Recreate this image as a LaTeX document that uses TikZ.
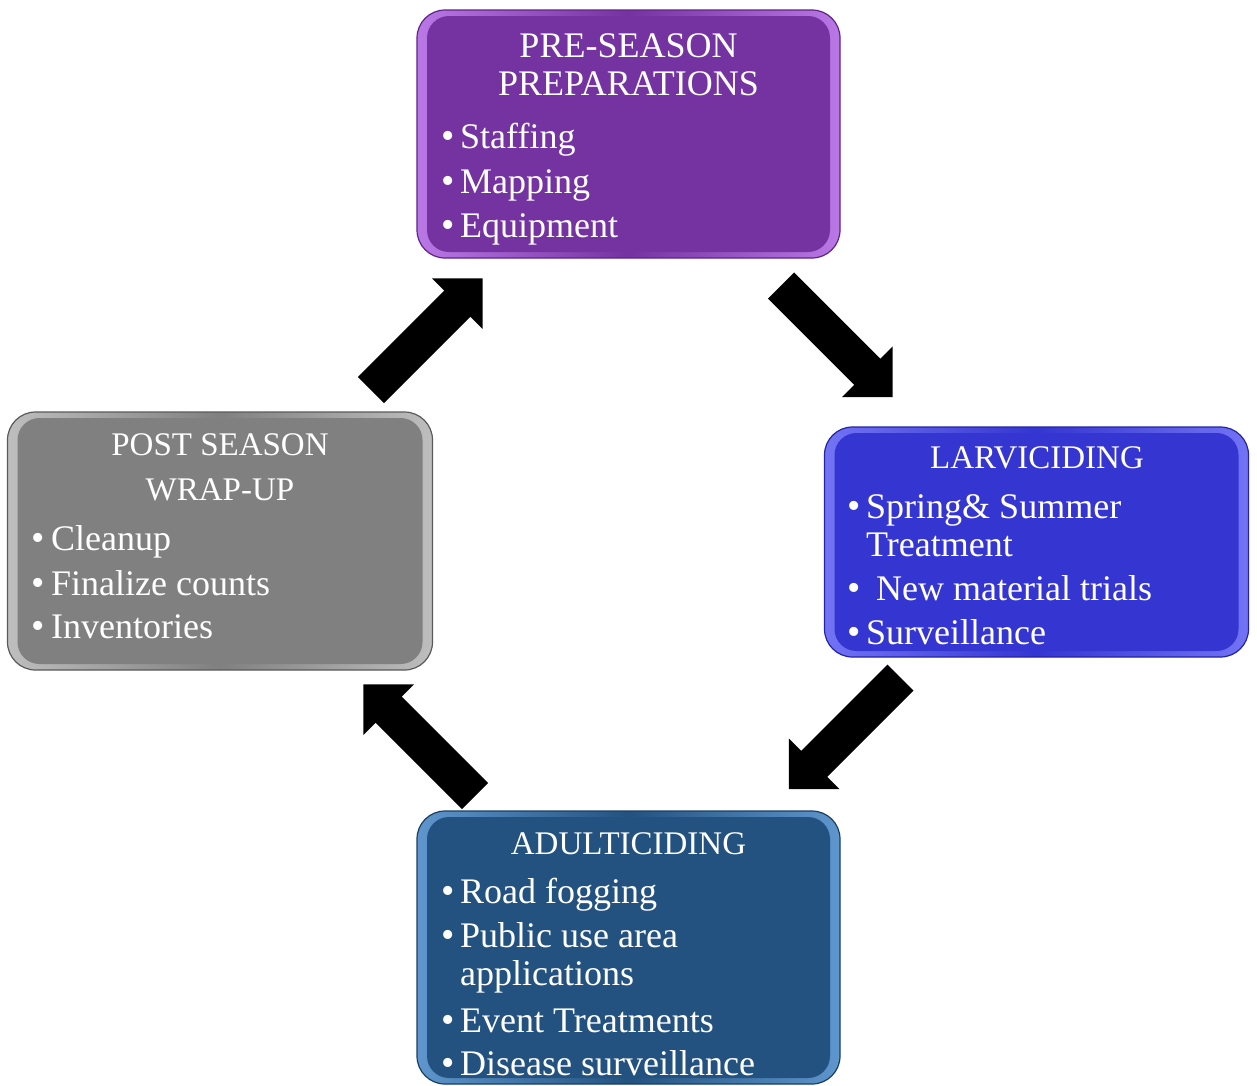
\documentclass[tikz,border=0pt]{standalone}
\usepackage{fontspec}
\setmainfont{Liberation Serif}
\definecolor{purp}{RGB}{117,51,162}
\definecolor{purpborder}{RGB}{95,35,135}
\definecolor{purplight}{RGB}{185,120,230}
\definecolor{blu}{RGB}{53,53,210}
\definecolor{bluborder}{RGB}{35,35,165}
\definecolor{blulight}{RGB}{115,115,245}
\definecolor{gry}{RGB}{128,128,128}
\definecolor{gryborder}{RGB}{90,90,90}
\definecolor{grylight}{RGB}{190,190,190}
\definecolor{nav}{RGB}{35,82,128}
\definecolor{navborder}{RGB}{25,62,100}
\definecolor{navlight}{RGB}{95,150,205}
\tikzset{
  hd/.style={anchor=base, inner sep=0pt, text=white, font=\fontsize{33}{33}\selectfont},
  hdbig/.style={anchor=base, inner sep=0pt, text=white, font=\fontsize{36}{36}\selectfont},
  bl/.style={anchor=base west, inner sep=0pt, text=white, font=\fontsize{36}{36}\selectfont},
  bu/.style={anchor=base, inner sep=0pt, text=white, font=\fontsize{38}{38}\selectfont},
  outerbox/.style={draw=#1border, line width=1.2pt, rounded corners=28pt,
    left color=#1light, right color=#1light, middle color=#1, inner sep=0pt},
  innerbox/.style={fill=#1, rounded corners=22pt, inner sep=0pt},
  blk/.style={fill=black}
}
\newcommand\blkarrow[2]{%
  \fill[blk, shift={#1}, rotate=#2] (0,-18.4) -- (122,-18.4) -- (122,-36) -- (158,0)
    -- (122,36) -- (122,18.4) -- (0,18.4) -- cycle;}
\begin{document}
\begin{tikzpicture}[x=1pt,y=-1pt]
\useasboundingbox[fill=white] (0,0) rectangle (1257,1085);

% boxes
\node[outerbox=purp, minimum width=423pt, minimum height=248pt] (pre) at (628.5,134) {};
\node[innerbox=purp, minimum width=403pt, minimum height=236pt] (preIn) at (pre.center) {};
\node[outerbox=blu, minimum width=424pt, minimum height=230pt] (lar) at (1036.5,542) {};
\node[innerbox=blu, minimum width=404pt, minimum height=218pt] (larIn) at (lar.center) {};
\node[outerbox=gry, minimum width=425pt, minimum height=258pt] (post) at (220,541) {};
\node[innerbox=gry, minimum width=405pt, minimum height=246pt] (postIn) at (post.center) {};
\node[outerbox=nav, minimum width=423pt, minimum height=273pt] (adu) at (628.5,947.5) {};
\node[innerbox=nav, minimum width=403pt, minimum height=261pt] (aduIn) at (adu.center) {};

% pre-season text
\node[hdbig] (t1a) at (628.5,57) {PRE-SEASON};
\node[hdbig] (t1b) at (628.5,95) {PREPARATIONS};
\node[bu] (b11) at (448,148) {•};
\node[bl] (t11) at (460,148) {Staffing};
\node[bu] (b12) at (448,193) {•};
\node[bl] (t12) at (460,193) {Mapping};
\node[bu] (b13) at (448,237) {•};
\node[bl] (t13) at (460,237) {Equipment};

% larviciding text
\node[hd] (t2a) at (1037,468) {LARVICIDING};
\node[bu] (b21) at (854,518) {•};
\node[bl] (t21) at (866,518) {Spring\& Summer};
\node[bl] (t21b) at (866,556) {Treatment};
\node[bu] (b22) at (854,600) {•};
\node[bl] (t22) at (876,600) {New material trials};
\node[bu] (b23) at (854,644) {•};
\node[bl] (t23) at (866,644) {Surveillance};

% post season text
\node[hd] (t3a) at (220,455) {POST SEASON};
\node[hd] (t3b) at (220,500) {WRAP-UP};
\node[bu] (b31) at (38,550) {•};
\node[bl] (t31) at (51,550) {Cleanup};
\node[bu] (b32) at (38,595) {•};
\node[bl] (t32) at (51,595) {Finalize counts};
\node[bu] (b33) at (38,638) {•};
\node[bl] (t33) at (51,638) {Inventories};

% adulticiding text
\node[hd] (t4a) at (628.5,854) {ADULTICIDING};
\node[bu] (b41) at (448,903) {•};
\node[bl] (t41) at (460,903) {Road fogging};
\node[bu] (b42) at (448,947) {•};
\node[bl] (t42) at (460,947) {Public use area};
\node[bl] (t42b) at (460,985) {applications};
\node[bu] (b43) at (448,1032) {•};
\node[bl] (t43) at (460,1032) {Event Treatments};
\node[bu] (b44) at (448,1075) {•};
\node[bl] (t44) at (460,1075) {Disease surveillance};

% block arrows
\coordinate (a1) at (371,390);
\coordinate (a2) at (781,285.5);
\coordinate (a3) at (900.5,677.5);
\coordinate (a4) at (475,796);
\blkarrow{(a1)}{45}
\blkarrow{(a2)}{-45}
\blkarrow{(a3)}{-135}
\blkarrow{(a4)}{135}
\end{tikzpicture}
\end{document}
